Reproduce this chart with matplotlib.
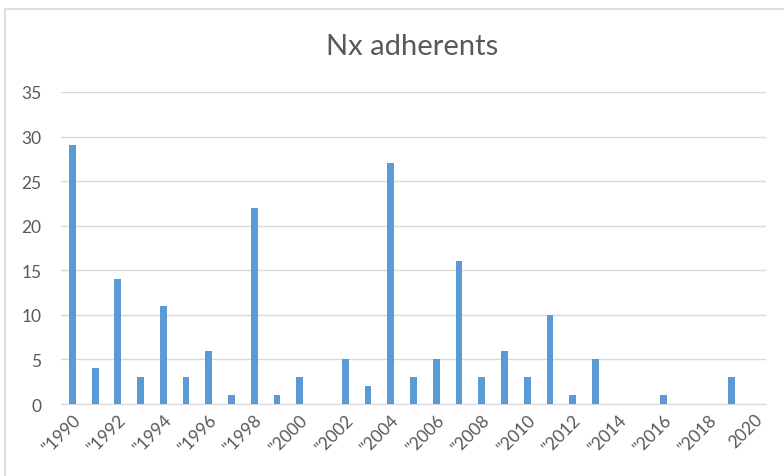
import matplotlib.pyplot as plt
from matplotlib.patches import Rectangle

plt.rcParams['font.family'] = ['Lato', 'DejaVu Sans']

years = list(range(1990, 2021))
adherents = [29, 4, 14, 3, 11, 3, 6, 1, 22, 1, 3, 0, 5, 2, 27, 3, 5, 16, 3, 6,
             3, 10, 1, 5, 0, 0, 1, 0, 0, 3, 0]
tick_labels = ['"' + str(y) for y in range(1990, 2020, 2)] + ['2020']

bar_color = '#5b9bd5'
text_color = '#595959'
grid_color = '#d9d9d9'

fig = plt.figure(figsize=(7.84, 4.77), dpi=100)
ax = fig.add_axes([61 / 784, 1 - 405 / 477, 705 / 784, 312 / 477])

# chart border (only top/left visible in the original crop)
fig.patches.append(Rectangle((5 / 784, -0.1), 1.1, 1 - 10 / 477 + 0.1,
                             transform=fig.transFigure, fill=False,
                             edgecolor=grid_color, linewidth=1.2))

x = list(range(len(years)))
ax.bar(x, adherents, width=0.3, color=bar_color, zorder=3)

ax.set_xlim(-0.5, len(years) - 0.5)
ax.set_ylim(0, 35)
ax.set_yticks(range(0, 36, 5))
ax.set_xticks(x[::2])
ax.set_xticklabels(tick_labels, rotation=45, ha='right', rotation_mode='anchor',
                   fontsize=12.5, color=text_color)
ax.tick_params(axis='y', labelsize=12.5, labelcolor=text_color, length=0, pad=14)
ax.tick_params(axis='x', length=0, pad=5)
ax.grid(axis='y', color=grid_color, linewidth=1, zorder=0)
for s in ['top', 'right', 'left']:
    ax.spines[s].set_visible(False)
ax.spines['bottom'].set_color(grid_color)

fig.text(412 / 784, 1 - 47 / 477, 'Nx adherents', ha='center', va='center',
         fontsize=21, color=text_color)

fig.savefig('out.png', dpi=100)
